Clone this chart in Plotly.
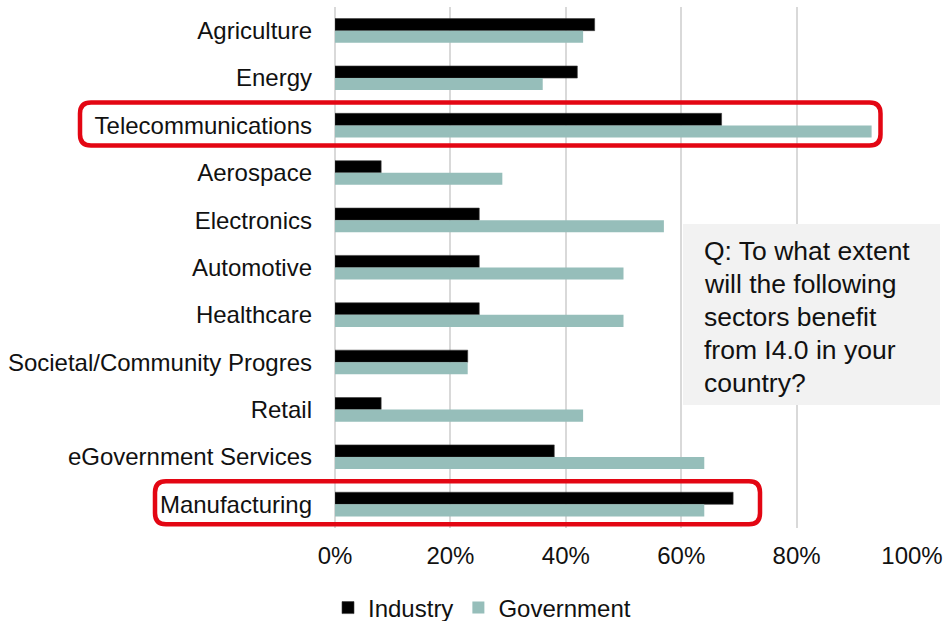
import plotly.graph_objects as go

# Sectors, top to bottom
sectors = [
    "Agriculture", "Energy", "Telecommunications", "Aerospace", "Electronics",
    "Automotive", "Healthcare", "Societal/Community Progres", "Retail",
    "eGovernment Services", "Manufacturing",
]
industry = [0.45, 0.42, 0.67, 0.08, 0.25, 0.25, 0.25, 0.23, 0.08, 0.38, 0.69]
government = [0.43, 0.36, 0.93, 0.29, 0.57, 0.50, 0.50, 0.23, 0.43, 0.64, 0.64]
x_ticks = [0, 0.2, 0.4, 0.6, 0.8, 1.0]
highlighted = ["Telecommunications", "Manufacturing"]
question_lines = [
    "Q: To what extent",
    "will the following",
    "sectors benefit",
    "from I4.0 in your",
    "country?",
]

W, H = 944, 621
L, R, T, B = 335, 32, 7, 93
PW, PH = W - L - R, H - T - B
FONT = "Arial, Liberation Sans, sans-serif"
TXT = "#111111"

fig = go.Figure()
fig.add_trace(go.Bar(
    y=sectors, x=industry, name="Industry", orientation="h",
    marker=dict(color="#000000", line=dict(color="#3a3a3a", width=0.6)),
))
fig.add_trace(go.Bar(
    y=sectors, x=government, name="Government", orientation="h",
    marker=dict(color="#96BEBA", line=dict(width=0)),
))


def px_to_paper_x(px):
    return (px - L) / PW


def px_to_paper_y(py):
    return 1 - (py - T) / PH


def rounded_rect(x0, y0, x1, y1, r):
    """SVG path for a rounded rectangle, given in pixel coords, emitted in paper coords."""
    X = px_to_paper_x
    Y = px_to_paper_y
    pts = [
        f"M{X(x0 + r)},{Y(y0)}",
        f"L{X(x1 - r)},{Y(y0)}",
        f"Q{X(x1)},{Y(y0)} {X(x1)},{Y(y0 + r)}",
        f"L{X(x1)},{Y(y1 - r)}",
        f"Q{X(x1)},{Y(y1)} {X(x1 - r)},{Y(y1)}",
        f"L{X(x0 + r)},{Y(y1)}",
        f"Q{X(x0)},{Y(y1)} {X(x0)},{Y(y1 - r)}",
        f"L{X(x0)},{Y(y0 + r)}",
        f"Q{X(x0)},{Y(y0)} {X(x0 + r)},{Y(y0)}",
        "Z",
    ]
    return " ".join(pts)


# Red outlines around the highlighted sectors (label + bars)
band = PH / len(sectors)
box_extent = {"Telecommunications": (80, 880.5), "Manufacturing": (155, 760)}
for name in highlighted:
    i = sectors.index(name)
    cy = T + (i + 0.5) * band
    x0, x1 = box_extent[name]
    fig.add_shape(
        type="path", xref="paper", yref="paper",
        path=rounded_rect(x0, cy - 23, x1, cy + 20, 11),
        line=dict(color="#E30613", width=4.5),
        layer="above",
    )

# Question box
bx0, by0, bx1, by1 = 683, 224, 940, 405
fig.add_shape(
    type="rect", xref="paper", yref="paper",
    x0=px_to_paper_x(bx0), x1=px_to_paper_x(bx1),
    y0=px_to_paper_y(by0), y1=px_to_paper_y(by1),
    fillcolor="#F2F2F2", line=dict(width=0), layer="above",
)
for k, line in enumerate(question_lines):
    fig.add_annotation(
        xref="paper", yref="paper",
        x=px_to_paper_x(702), y=px_to_paper_y(251 + 33 * k),
        xanchor="left", yanchor="middle", showarrow=False,
        text=line, font=dict(family=FONT, size=26.5, color=TXT),
    )

fig.update_layout(
    width=W, height=H,
    margin=dict(l=L, r=R, t=T, b=B, autoexpand=False),
    paper_bgcolor="white", plot_bgcolor="white",
    barmode="group", bargap=0.49, bargroupgap=0,
    font=dict(family=FONT, size=24, color=TXT),
    showlegend=True,
    legend=dict(
        orientation="h", x=px_to_paper_x(482), xanchor="center",
        y=px_to_paper_y(608), yanchor="middle",
        font=dict(family=FONT, size=24, color=TXT),
        itemwidth=30, traceorder="normal",
        bgcolor="rgba(0,0,0,0)",
    ),
)
fig.update_xaxes(
    range=[0, 1], tickvals=x_ticks, tickformat=".0%",
    showgrid=True, gridcolor="#D9D9D9", gridwidth=1.5,
    zeroline=True, zerolinecolor="#D9D9D9", zerolinewidth=1.5,
    showline=False, ticks="", ticklabelstandoff=11,
    tickfont=dict(family=FONT, size=24, color=TXT),
    fixedrange=True,
)
fig.update_yaxes(
    categoryorder="array", categoryarray=sectors, autorange="reversed",
    showgrid=False, zeroline=False, showline=False, ticks="",
    ticklabelstandoff=22,
    tickfont=dict(family=FONT, size=24, color=TXT),
    fixedrange=True,
)

fig.write_html("out.html")
